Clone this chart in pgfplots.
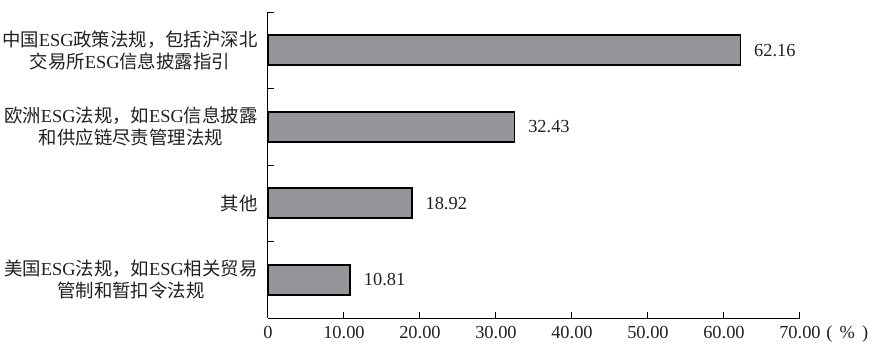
\documentclass[border=0pt]{standalone}
\usepackage{fontspec}
\setmainfont{Liberation Serif}
\newfontfamily\cjk{Noto Sans CJK SC}
\usepackage{pgfplots}
\pgfplotsset{compat=1.18}
\definecolor{barfill}{RGB}{147,149,152}
\definecolor{txt}{RGB}{35,31,32}
\newcommand\C[1]{{\cjk #1}}
\begin{document}
\begin{tikzpicture}
\fontsize{9}{11}\selectfont
\useasboundingbox (-134pt,-15.5pt) rectangle (302.5pt,159pt);
\begin{axis}[
  at={(0,0)}, anchor=south west,
  width=266pt, height=153pt, scale only axis,
  xmin=0, xmax=70, ymin=-0.5, ymax=3.5,
  axis x line*=bottom, axis y line*=left,
  axis line style={black, line width=0.5pt},
  tick align=inside, major tick length=3pt,
  tick style={black, line width=0.5pt},
  xtick={0,10,20,30,40,50,60,70},
  xticklabels={0,10.00,20.00,30.00,40.00,50.00,60.00,70.00},
  xticklabel style={text=txt, font=\fontsize{9.2}{11}\selectfont, text height=6.2pt, text depth=0pt, yshift=-1pt},
  ytick={-0.5,0.5,1.5,2.5,3.5}, yticklabels={},
  extra y ticks={0,1,2,3},
  extra y tick labels={
    {\C{美国}ESG\C{法规，如}ESG\C{相关贸易}\\\C{管制和暂扣令法规}},
    {\C{其他}},
    {\C{欧洲}ESG\C{法规，如}ESG\C{信息披露}\\\C{和供应链尽责管理法规}},
    {\C{中国}ESG\C{政策法规，包括沪深北}\\\C{交易所}ESG\C{信息披露指引}}},
  extra y tick style={major tick length=0pt},
  yticklabel style={align=center, inner sep=0pt, xshift=-5pt, text=txt, font=\fontsize{9.2}{11}\selectfont},
  /pgf/number format/assume math mode=true,
  clip=false,
]
\addplot[xbar, fill=barfill, draw=black, line width=0.8pt, bar width=15pt,
  point meta=x,
  nodes near coords={\pgfmathprintnumber[fixed,fixed zerofill,precision=2]{\pgfplotspointmeta}},
  every node near coord/.append style={anchor=west, inner sep=0pt, xshift=6.5pt, text=txt, font=\fontsize{9.2}{11}\selectfont}]
  coordinates {(10.81,0) (18.92,1) (32.43,2) (62.16,3)};
\end{axis}
\node[anchor=base west, inner sep=0pt, text=txt, font=\fontsize{9.2}{11}\selectfont] at (279pt,-10.3pt) {(\hspace{3.6pt}\%\hspace{3.6pt})};
\end{tikzpicture}
\end{document}
